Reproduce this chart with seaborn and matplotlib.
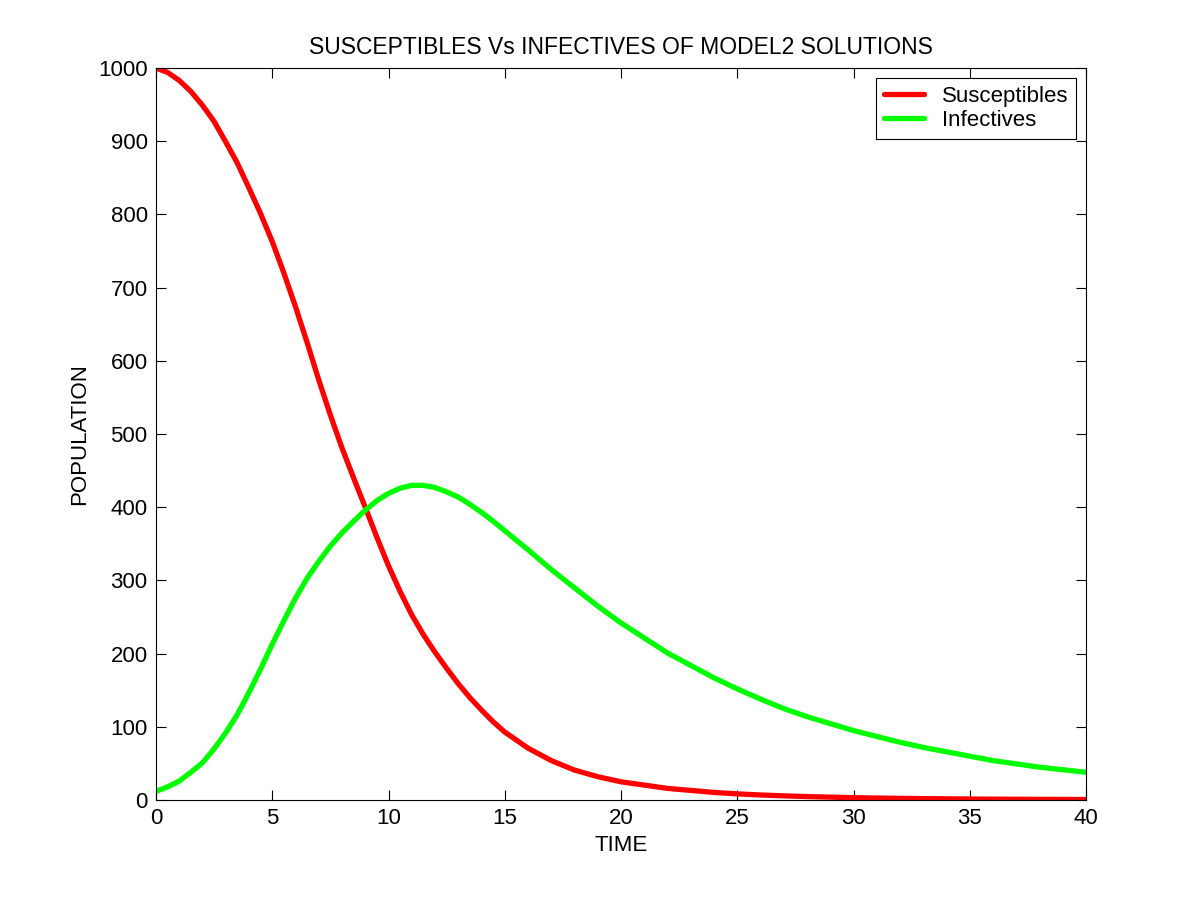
import numpy as np
import pandas as pd
import matplotlib
matplotlib.use("Agg")
import matplotlib.pyplot as plt
import seaborn as sns

# valores
tiempo = [0, 0.5, 1, 1.5, 2, 2.5, 3, 3.5, 4, 4.5, 5, 5.5, 6, 6.5, 7, 7.5, 8, 8.5,
          9, 9.5, 10, 10.5, 11, 11.5, 12, 12.5, 13, 13.5, 14, 14.5, 15, 16, 17, 18,
          19, 20, 22, 24, 25, 26, 27, 28, 30, 32, 33, 35, 36, 38, 40]
susceptibles = [1000, 994, 983, 968, 949, 927, 899, 870, 836, 801, 763, 720, 674,
                625, 574, 526, 481, 440, 400, 359, 320, 285, 253, 226, 202, 180,
                159, 140, 123, 107, 93, 71, 54, 41, 32, 25, 16, 10.5, 8.5, 7, 5.8,
                4.8, 3.3, 2.4, 2, 1.5, 1.3, 1, 0.8]
infectives = [12, 18, 26, 38, 51, 70, 92, 117, 147, 179, 213, 245, 276, 303, 326,
              347, 365, 381, 396, 409, 419, 426, 430, 430, 427, 421, 414, 404, 393,
              381, 368, 342, 315, 290, 265, 242, 201, 167, 152, 138, 125, 114, 95,
              79, 72, 60, 54, 45, 38]

df = pd.DataFrame({"TIME": tiempo, "Susceptibles": susceptibles, "Infectives": infectives})
df = df.melt(id_vars="TIME", var_name="serie", value_name="POPULATION")

sns.set_style("ticks")
plt.rcParams["font.family"] = ["Liberation Sans", "DejaVu Sans"]
plt.rcParams["xtick.direction"] = "in"
plt.rcParams["ytick.direction"] = "in"
plt.rcParams["text.color"] = "black"
plt.rcParams["axes.labelcolor"] = "black"
plt.rcParams["xtick.color"] = "black"
plt.rcParams["ytick.color"] = "black"
plt.rcParams["axes.edgecolor"] = "black"

fig = plt.figure(figsize=(12, 9), dpi=100)
ax = fig.add_axes([0.13, 0.111, 0.775, 0.8134])

sns.lineplot(data=df, x="TIME", y="POPULATION", hue="serie",
             palette={"Susceptibles": "#ff0000", "Infectives": "#00ff00"},
             linewidth=3.8, ax=ax)

ax.set_xlim(0, 40)
ax.set_ylim(0, 1000)
ax.set_xticks(range(0, 41, 5))
ax.set_yticks(range(0, 1001, 100))
ax.tick_params(top=True, right=True, labelsize=16, length=7, width=0.8, pad=6)
for s in ax.spines.values():
    s.set_linewidth(0.8)

ax.set_title("SUSCEPTIBLES Vs INFECTIVES OF MODEL2 SOLUTIONS", fontsize=16.5, pad=10)
ax.set_xlabel("TIME", fontsize=16, labelpad=4)
ax.set_ylabel("POPULATION", fontsize=16, labelpad=6)

ax.legend(title=None, loc="upper right", fontsize=16, frameon=True, fancybox=False,
          edgecolor="black", framealpha=1, handlelength=1.8, labelspacing=0.15,
          borderaxespad=0.45, borderpad=0.35)
leg = ax.get_legend()
leg.get_frame().set_linewidth(0.8)

fig.savefig("out.png", dpi=100)
